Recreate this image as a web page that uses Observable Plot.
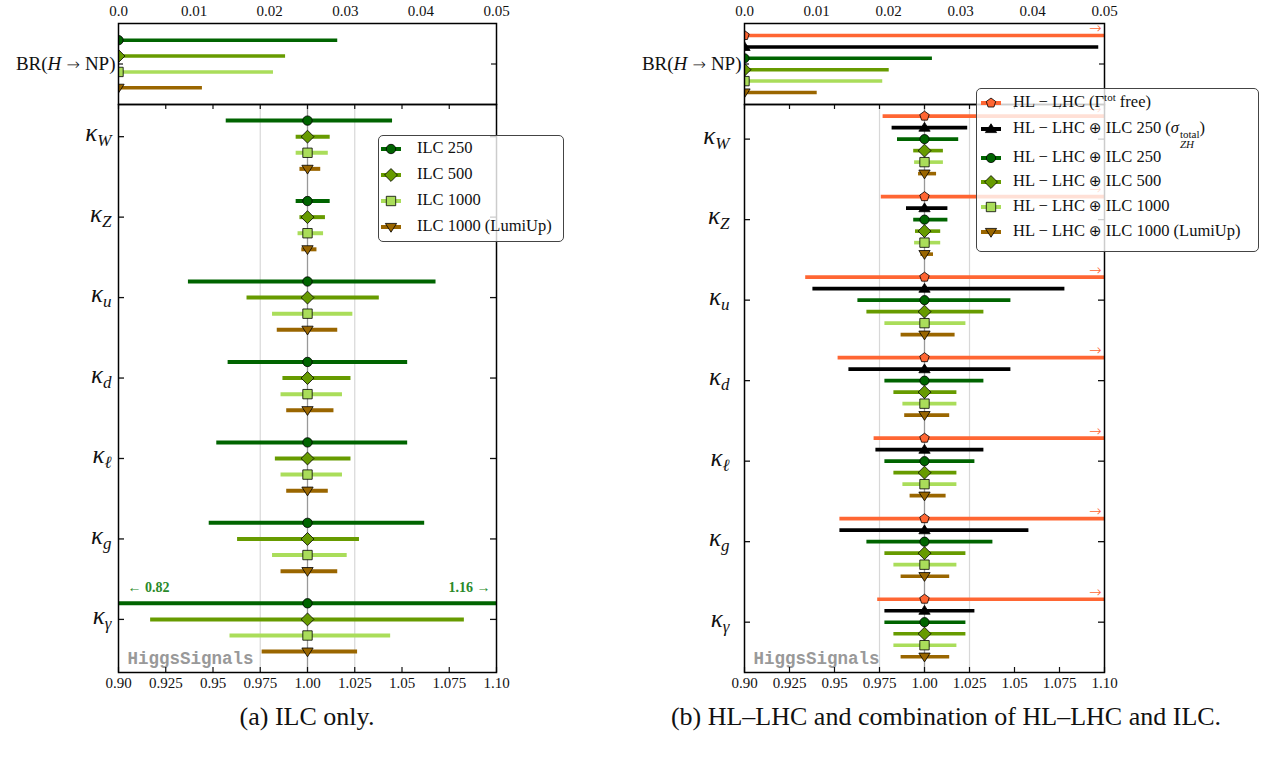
<!DOCTYPE html>
<html><head><meta charset="utf-8">
<script src="https://cdn.jsdelivr.net/npm/d3@7"></script>
<script src="https://cdn.jsdelivr.net/npm/@observablehq/plot@0.6"></script>
<style>
body{margin:0;background:#fff;}
#root{position:relative;width:1261px;height:759px;font-family:"Liberation Serif","DejaVu Serif",serif;overflow:hidden;}
.legend{position:absolute;background:rgba(255,255,255,0.8);border:1.2px solid #444;border-radius:5px;box-sizing:border-box;}
.lrow{position:absolute;display:block;white-space:nowrap;font-size:16.5px;line-height:22px;color:#111;}
.lrow sup{font-size:11px;vertical-align:0.55em;line-height:0;}
.stack{display:inline-flex;flex-direction:column;vertical-align:-0.45em;font-size:11px;line-height:10px;margin-left:1px;}
.oplus{font-family:"DejaVu Sans",sans-serif;font-size:15px;}
.caption{position:absolute;font-size:26px;color:#111;white-space:nowrap;transform:translateX(-50%);}
</style></head><body><div id="root"></div>
<script>
// ---------------- data ----------------
const kappaNames = ["W", "Z", "u", "d", "ℓ", "g", "γ"];
const xTickValues = [0.9, 0.925, 0.95, 0.975, 1.0, 1.025, 1.05, 1.075, 1.1];
const xTickLabels = ["0.90", "0.925", "0.95", "0.975", "1.00", "1.025", "1.05", "1.075", "1.10"];
const brTickValues = [0, 0.01, 0.02, 0.03, 0.04, 0.05];
const brTickLabels = ["0.0", "0.01", "0.02", "0.03", "0.04", "0.05"];
const guideLines = [0.975, 1.025];
const smLine = [1.0];

// panel (a): ILC only
const ilcNames = ["ILC 250", "ILC 500", "ILC 1000", "ILC 1000 (LumiUp)"];
const ilcCentral = [1, 1, 1, 1, 1, 1, 1];
const ilc250Lo = [0.957, 0.994, 0.937, 0.958, 0.952, 0.948, 0.82];
const ilc250Hi = [1.045, 1.012, 1.068, 1.053, 1.053, 1.062, 1.16];
const ilc500Lo = [0.994, 0.996, 0.968, 0.987, 0.983, 0.963, 0.917];
const ilc500Hi = [1.012, 1.0095, 1.038, 1.023, 1.023, 1.0275, 1.083];
const ilc1000Lo = [0.994, 0.995, 0.9815, 0.986, 0.986, 0.9815, 0.959];
const ilc1000Hi = [1.011, 1.0085, 1.024, 1.0185, 1.0185, 1.021, 1.044];
const ilcLumiLo = [0.996, 0.997, 0.984, 0.989, 0.989, 0.986, 0.976];
const ilcLumiHi = [1.007, 1.005, 1.016, 1.014, 1.011, 1.016, 1.0265];
const ilcBR = [0.029, 0.0221, 0.0205, 0.0111];

// panel (b): HL-LHC and combinations
const combNames = ["HL − LHC (Γ^tot free)", "HL − LHC ⊕ ILC 250 (σ^total_ZH)", "HL − LHC ⊕ ILC 250", "HL − LHC ⊕ ILC 500", "HL − LHC ⊕ ILC 1000", "HL − LHC ⊕ ILC 1000 (LumiUp)"];
const combCentral = [1, 1, 1, 1, 1, 1, 1];
const hlLo = [0.977, 0.976, 0.934, 0.952, 0.972, 0.953, 0.974];
const hlHi = [null, null, null, null, null, null, null]; // off scale (arrow)
const hlZhLo = [0.982, 0.990, 0.938, 0.958, 0.973, 0.953, 0.978];
const hlZhHi = [1.024, 1.013, 1.078, 1.048, 1.033, 1.058, 1.028];
const hl250Lo = [0.985, 0.994, 0.963, 0.978, 0.978, 0.968, 0.978];
const hl250Hi = [1.019, 1.013, 1.048, 1.033, 1.028, 1.038, 1.023];
const hl500Lo = [0.994, 0.995, 0.968, 0.983, 0.983, 0.978, 0.983];
const hl500Hi = [1.0105, 1.009, 1.033, 1.018, 1.018, 1.023, 1.023];
const hl1000Lo = [0.9945, 0.9945, 0.978, 0.988, 0.988, 0.983, 0.983];
const hl1000Hi = [1.0105, 1.009, 1.023, 1.018, 1.018, 1.018, 1.018];
const hlLumiLo = [0.9967, 0.998, 0.987, 0.989, 0.992, 0.987, 0.987];
const hlLumiHi = [1.0067, 1.005, 1.017, 1.014, 1.012, 1.014, 1.014];
const combBR = [null, 0.0492, 0.0261, 0.0201, 0.0192, 0.0101];

// ---------------- styles ----------------
const C_ORANGE = "#ff6633", C_BLACK = "#000000", C_DG = "#006400", C_OL = "#679b00", C_LG = "#aadd5a", C_BR = "#9a6600";
const triangleDown = {draw(ctx, size) {
  const y = Math.sqrt(size / (Math.sqrt(3) * 3));
  ctx.moveTo(0, y * 1.6); ctx.lineTo(-Math.sqrt(3) * y, -y * 1.1); ctx.lineTo(Math.sqrt(3) * y, -y * 1.1); ctx.closePath();
}};
const triangleUp = {draw(ctx, size) {
  const y = Math.sqrt(size / (Math.sqrt(3) * 3));
  ctx.moveTo(0, -y * 1.6); ctx.lineTo(-Math.sqrt(3) * y, y * 1.1); ctx.lineTo(Math.sqrt(3) * y, y * 1.1); ctx.closePath();
}};
const pentagon = {draw(ctx, size) {
  const R = Math.sqrt(size / Math.PI) * 1.08;
  for (let i = 0; i < 5; i++) {
    const a = -Math.PI / 2 + i * 2 * Math.PI / 5;
    const px = R * Math.cos(a), py = R * Math.sin(a);
    i ? ctx.lineTo(px, py) : ctx.moveTo(px, py);
  }
  ctx.closePath();
}};

const ilcStyle = [
  {color: C_DG, symbol: d3.symbolCircle, r: 4.7},
  {color: C_OL, symbol: d3.symbolDiamond2, r: 5.8},
  {color: C_LG, symbol: d3.symbolSquare, r: 5.3},
  {color: C_BR, symbol: triangleDown, r: 4.2}
];
const combStyle = [
  {color: C_ORANGE, symbol: pentagon, r: 4.6},
  {color: C_BLACK, symbol: triangleUp, r: 4.2},
  {color: C_DG, symbol: d3.symbolCircle, r: 4.6},
  {color: C_OL, symbol: d3.symbolDiamond2, r: 5.8},
  {color: C_LG, symbol: d3.symbolSquare, r: 5.3},
  {color: C_BR, symbol: triangleDown, r: 4.2}
];

const ilcSeries = [
  {lo: ilc250Lo, hi: ilc250Hi}, {lo: ilc500Lo, hi: ilc500Hi},
  {lo: ilc1000Lo, hi: ilc1000Hi}, {lo: ilcLumiLo, hi: ilcLumiHi}
].map((s, i) => ({...s, mid: ilcCentral, name: ilcNames[i], br: ilcBR[i], ...ilcStyle[i]}));
const combSeries = [
  {lo: hlLo, hi: hlHi}, {lo: hlZhLo, hi: hlZhHi}, {lo: hl250Lo, hi: hl250Hi},
  {lo: hl500Lo, hi: hl500Hi}, {lo: hl1000Lo, hi: hl1000Hi}, {lo: hlLumiLo, hi: hlLumiHi}
].map((s, i) => ({...s, mid: combCentral, name: combNames[i], br: combBR[i], ...combStyle[i]}));

const root = document.getElementById("root");
const SVG_STYLE = {fontFamily: "Liberation Serif, DejaVu Serif, serif", fontSize: "15px", color: "#111", background: "transparent", overflow: "visible"};
const fmtFrom = (vals, labels) => d => { const i = vals.findIndex(v => Math.abs(v - d) < 1e-9); return i >= 0 ? labels[i] : ""; };
const NS = "http://www.w3.org/2000/svg";
function tspan(parent, text, attrs = {}) {
  const t = document.createElementNS(NS, "tspan"); t.textContent = text;
  for (const k in attrs) t.setAttribute(k, attrs[k]);
  parent.appendChild(t);
}
function place(el, left, top) { el.style.position = "absolute"; el.style.left = left + "px"; el.style.top = top + "px"; root.appendChild(el); }
const ARROW_FONT = "DejaVu Sans, sans-serif";

// ---------------- BR(H -> NP) panel ----------------
function brPanel(series, {left, width, mL, mR}) {
  const n = series.length, H = 105, mT = 23, mB = 1;
  const pw = width - mL - mR;
  const xMax = brTickValues[brTickValues.length - 1];
  const rows = series.map((s, i) => ({i, lo: 0, hi: s.br == null ? xMax : s.br, open: s.br == null, color: s.color}));
  const mid = (n - 1) / 2;
  const svg = Plot.plot({
    width, height: H, marginLeft: mL, marginRight: mR, marginTop: mT, marginBottom: mB,
    style: SVG_STYLE,
    x: {domain: [0, xMax], label: null},
    y: {domain: [-1.05, n - 1 + 1.05], reverse: true, label: null},
    marks: [
      Plot.ruleY(rows, {y: "i", x1: "lo", x2: "hi", stroke: "color", strokeWidth: 3.5, clip: true}),
      ...series.map((s, i) => Plot.dot([rows[i]], {x: "lo", y: "i", symbol: s.symbol, r: s.r, fill: s.color, stroke: "#000", strokeWidth: 0.8, clip: true})),
      Plot.text(rows.filter(d => d.open), {x: xMax, y: "i", text: () => "→", fill: "color", textAnchor: "end", dx: -3, dy: -7, fontSize: 15, fontFamily: ARROW_FONT, fontWeight: 300}),
      Plot.tickY([mid], {y: d => d, insetRight: pw - 5, strokeWidth: 1.2}),
      Plot.tickY([mid], {y: d => d, insetLeft: pw - 5, strokeWidth: 1.2}),
      Plot.frame({stroke: "#000", strokeWidth: 1.5}),
      Plot.axisX({anchor: "top", ticks: brTickValues, tickFormat: fmtFrom(brTickValues, brTickLabels), tickSize: 0, tickPadding: 8, label: null}),
      Plot.axisY({anchor: "left", ticks: [mid], tickFormat: () => "BR", tickSize: 0, tickPadding: 3, fontSize: 19, label: null})
    ]
  });
  svg.querySelectorAll('g[aria-label="y-axis tick label"] text').forEach(t => {
    t.textContent = "";
    tspan(t, "BR(");
    tspan(t, "H", {"font-style": "italic"});
    tspan(t, " → ", {"font-family": ARROW_FONT, "font-size": "16", "font-weight": "300"});
    tspan(t, "NP)");
  });
  place(svg, left, 0);
}

// ---------------- kappa panel ----------------
function kappaPanel(series, {left, width, mL, mR, center, yDomain, labelPad, barW}) {
  const n = series.length, H = 700, mT = 104, mB = 28;
  const pw = width - mL - mR, ph = H - mT - mB;
  const xMin = xTickValues[0], xMax = xTickValues[xTickValues.length - 1];
  const step = 1 / (n + 1);
  const rows = [];
  series.forEach((s, i) => kappaNames.forEach((k, g) => rows.push({
    s: i, g, y: g + (i - center) * step, mid: s.mid[g], lo: s.lo[g],
    hi: s.hi[g] == null ? xMax : s.hi[g], open: s.hi[g] == null, color: s.color
  })));
  const groups = kappaNames.map((k, g) => g);
  const svg = Plot.plot({
    width, height: H, marginLeft: mL, marginRight: mR, marginTop: mT, marginBottom: mB,
    style: SVG_STYLE,
    x: {domain: [xMin, xMax], label: null},
    y: {domain: yDomain, reverse: true, label: null},
    marks: [
      Plot.ruleX(guideLines, {stroke: "#d8d8d8", strokeWidth: 1.2}),
      Plot.ruleX(smLine, {stroke: "#999", strokeWidth: 1.3}),
      Plot.ruleY(rows, {y: "y", x1: "lo", x2: "hi", stroke: "color", strokeWidth: barW, clip: true}),
      ...series.map((s, i) => Plot.dot(rows.filter(d => d.s === i), {x: "mid", y: "y", symbol: s.symbol, r: s.r, fill: s.color, stroke: "#000", strokeWidth: 0.8})),
      Plot.text(rows.filter(d => d.open), {x: xMax, y: "y", text: () => "→", fill: "color", textAnchor: "end", dx: -3, dy: -7, fontSize: 15, fontFamily: ARROW_FONT, fontWeight: 300}),
      Plot.text(rows.filter(d => d.lo < xMin), {x: xMin, y: "y", text: d => "← " + d.lo.toFixed(2), fill: "#2a8a2a", textAnchor: "start", dx: 9, dy: -16, fontSize: 14, fontWeight: "bold"}),
      Plot.text(rows.filter(d => d.hi > xMax), {x: xMax, y: "y", text: d => d.hi.toFixed(2) + " →", fill: "#2a8a2a", textAnchor: "end", dx: -6, dy: -16, fontSize: 14, fontWeight: "bold"}),
      Plot.text(["HiggsSignals"], {frameAnchor: "bottom-left", dx: 9, dy: -9, text: d => d, fontFamily: "Liberation Mono, DejaVu Sans Mono, monospace", fontWeight: "bold", fontSize: 17.5, fill: "#999", textAnchor: "start"}),
      Plot.tickX(xTickValues, {x: d => d, insetTop: ph - 5, strokeWidth: 1.2}),
      Plot.tickX(xTickValues, {x: d => d, insetBottom: ph - 5, strokeWidth: 1.2}),
      Plot.tickY(groups, {y: d => d, insetRight: pw - 6, strokeWidth: 1.3}),
      Plot.tickY(groups, {y: d => d, insetLeft: pw - 6, strokeWidth: 1.3}),
      Plot.frame({stroke: "#000", strokeWidth: 1.5}),
      Plot.axisX({anchor: "bottom", ticks: xTickValues, tickFormat: fmtFrom(xTickValues, xTickLabels), tickSize: 0, tickPadding: 5, label: null}),
      Plot.axisY({anchor: "left", ticks: groups, tickFormat: g => kappaNames[g], tickSize: 0, tickPadding: labelPad, label: null})
    ]
  });
  svg.querySelectorAll('g[aria-label="y-axis tick label"] text').forEach(t => {
    const sub = t.textContent;
    t.textContent = "";
    tspan(t, "κ", {"font-style": "italic", "font-size": "25", "font-weight": "300"});
    tspan(t, sub, {"font-style": "italic", "font-size": "17", "dy": "5"});
  });
  place(svg, left, 0);
}

brPanel(ilcSeries, {left: 0, width: 520, mL: 118, mR: 24});
kappaPanel(ilcSeries, {left: 0, width: 520, mL: 118, mR: 24, center: 1, yDomain: [-0.4, 6.66], labelPad: 7, barW: 4});
brPanel(combSeries, {left: 620, width: 640, mL: 124, mR: 156});
kappaPanel(combSeries, {left: 620, width: 640, mL: 124, mR: 156, center: 2, yDomain: [-0.43, 6.625], labelPad: 15, barW: 3.6});

// ---------------- legends ----------------
function swatch(s, w = 22, h = 16) {
  const svg = d3.create("svg").attr("width", w).attr("height", h).style("overflow", "visible");
  svg.append("line").attr("x1", 1).attr("x2", w - 1).attr("y1", h / 2).attr("y2", h / 2).attr("stroke", s.color).attr("stroke-width", 4);
  svg.append("path").attr("d", d3.symbol(s.symbol, s.r * s.r * Math.PI)()).attr("transform", `translate(${w / 2},${h / 2})`)
    .attr("fill", s.color).attr("stroke", "#000").attr("stroke-width", 0.8);
  return svg.node();
}
function labelHTML(name) {
  return name
    .replace(/σ/g, "<i>σ</i>")
    .replace(/\^([A-Za-z]+)_([A-Za-z]+)/g, '<span class="stack"><span>$1</span><span><i>$2</i></span></span>')
    .replace(/\^([A-Za-z]+)/g, "<sup>$1</sup>")
    .replace(/⊕/g, '<span class="oplus">⊕</span>');
}
function legend(series, {left, top, width, height, rowsY, swX, textX}) {
  const box = document.createElement("div");
  box.className = "legend";
  box.style.left = left + "px"; box.style.top = top + "px"; box.style.width = width + "px"; box.style.height = height + "px";
  root.appendChild(box);
  series.forEach((s, i) => {
    const sw = swatch(s);
    sw.style.position = "absolute"; sw.style.left = (swX - left - 11) + "px"; sw.style.top = (rowsY[i] - top - 8) + "px";
    box.appendChild(sw);
    const lab = document.createElement("div");
    lab.className = "lrow";
    lab.innerHTML = labelHTML(s.name);
    lab.style.left = (textX - left) + "px"; lab.style.top = (rowsY[i] - top - 12) + "px";
    box.appendChild(lab);
  });
}
legend(ilcSeries, {left: 378, top: 135, width: 186, height: 107, rowsY: [148, 174, 200, 226], swX: 390, textX: 416});
legend(combSeries, {left: 976, top: 88, width: 283, height: 164, rowsY: [102, 128, 157, 181, 206, 231], swX: 990, textX: 1012});

// ---------------- captions ----------------
const capA = document.createElement("div"); capA.className = "caption"; capA.textContent = "(a) ILC only.";
capA.style.left = "307px"; capA.style.top = "702px"; root.appendChild(capA);
const capB = document.createElement("div"); capB.className = "caption"; capB.textContent = "(b) HL–LHC and combination of HL–LHC and ILC.";
capB.style.left = "946px"; capB.style.top = "702px"; root.appendChild(capB);
</script></body></html>
